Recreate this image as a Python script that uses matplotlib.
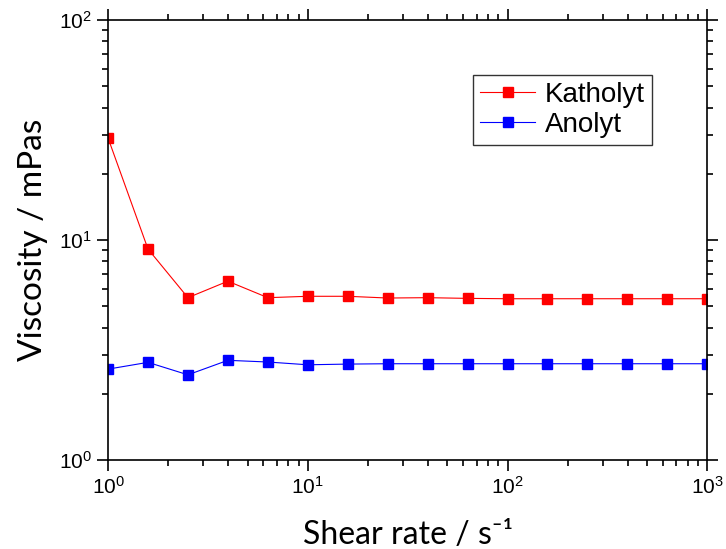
import matplotlib
matplotlib.use("Agg")
import matplotlib.pyplot as plt
from matplotlib.ticker import LogLocator, NullFormatter

# data (5 points per decade)
shear_rate = [1.0, 1.585, 2.512, 3.981, 6.310, 10.0, 15.85, 25.12, 39.81,
              63.10, 100.0, 158.5, 251.2, 398.1, 631.0, 1000.0]
katholyt = [29.1, 9.1, 5.47, 6.5, 5.47, 5.55, 5.55, 5.45, 5.47,
            5.43, 5.41, 5.41, 5.41, 5.41, 5.41, 5.41]
anolyt = [2.59, 2.78, 2.44, 2.84, 2.79, 2.71, 2.73, 2.74, 2.74,
          2.74, 2.74, 2.74, 2.74, 2.74, 2.74, 2.74]

plt.rcParams['font.family'] = ['Liberation Sans', 'DejaVu Sans']
plt.rcParams['mathtext.fontset'] = 'custom'
plt.rcParams['mathtext.rm'] = 'Liberation Sans'
plt.rcParams['mathtext.it'] = 'Liberation Sans'
plt.rcParams['mathtext.default'] = 'regular'

fig = plt.figure(figsize=(7.26, 5.49), dpi=100)
ax = fig.add_axes([0.1488, 0.162, 0.8254, 0.8016])

ax.plot(shear_rate, katholyt, color='red', marker='s', markersize=7,
        linewidth=0.8, label='Katholyt')
ax.plot(shear_rate, anolyt, color='blue', marker='s', markersize=7,
        linewidth=0.8, label='Anolyt')

ax.set_xscale('log')
ax.set_yscale('log')
ax.set_xlim(1, 1000)
ax.set_ylim(1, 100)

for a in (ax.xaxis, ax.yaxis):
    a.set_major_locator(LogLocator(base=10))
    a.set_minor_locator(LogLocator(base=10, subs=range(2, 10)))
    a.set_minor_formatter(NullFormatter())

ax.tick_params(which='both', direction='out', top=True, right=True,
               labeltop=False, labelright=False, width=1.2, labelsize=15)
ax.tick_params(which='major', length=8)
ax.tick_params(which='minor', length=4.5)
for s in ax.spines.values():
    s.set_linewidth(1.2)

lab_font = ['Lato', 'DejaVu Sans']
ax.set_xlabel('Shear rate / s\u207b\u00b9', fontsize=23, family=lab_font, labelpad=16)
ax.set_ylabel('Viscosity / mPas', fontsize=24, family=lab_font, labelpad=8)

leg = ax.legend(loc='upper left', bbox_to_anchor=(0.609, 0.875), fontsize=20,
                frameon=True, fancybox=False, edgecolor='black',
                borderpad=0.25, labelspacing=0.15, handlelength=2.0,
                handletextpad=0.35, borderaxespad=0)
leg.get_frame().set_linewidth(1.0)

fig.savefig('out.png', dpi=100)
